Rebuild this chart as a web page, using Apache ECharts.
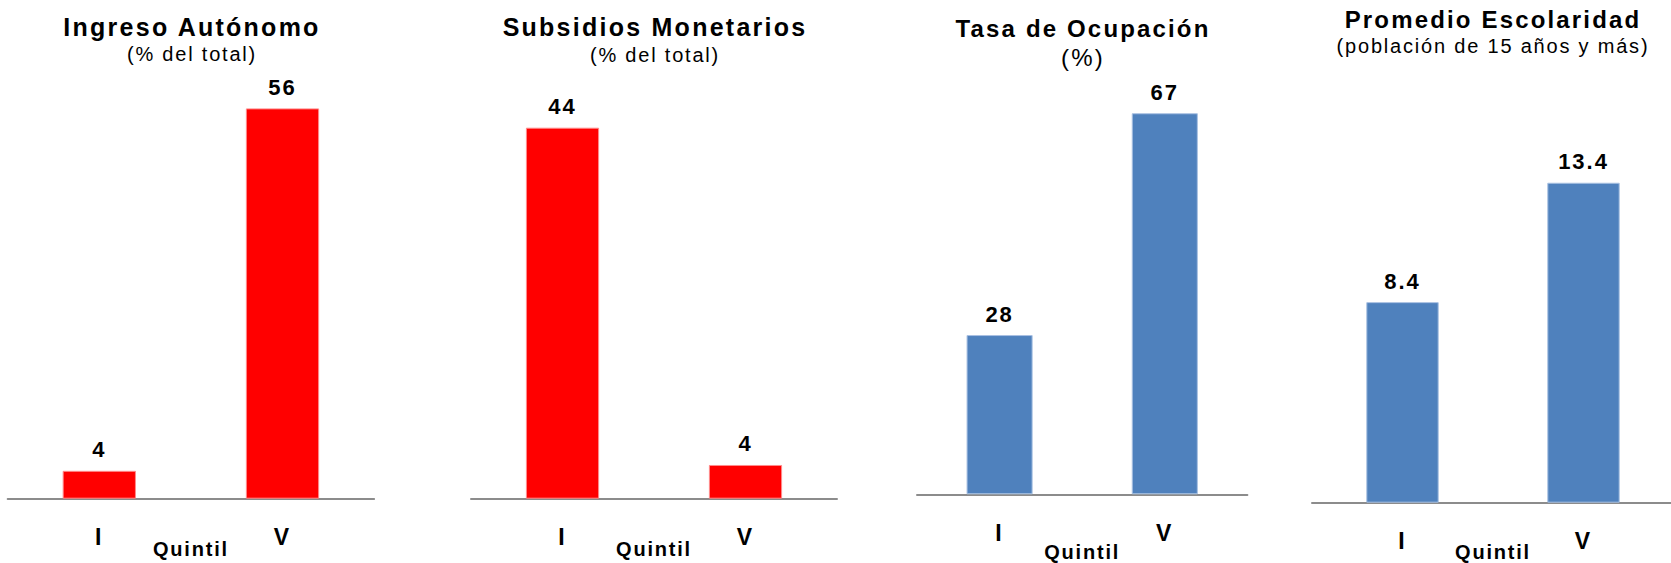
<!DOCTYPE html>
<html>
<head>
<meta charset="utf-8">
<script src="https://cdn.jsdelivr.net/npm/echarts@6/dist/echarts.min.js"></script>
<style>
  html, body { margin: 0; padding: 0; background: #fff; }
  #chart { width: 1671px; height: 563px; }
  #chart text { letter-spacing: 0.09em; }
</style>
</head>
<body>
<div id="chart"></div>
<script>
// ---- data ----
const categories = ['I', 'V'];
const axisName = 'Quintil';
const ingresoAutonomo = [4, 56];
const subsidiosMonetarios = [44, 4];
const tasaOcupacion = [28, 67];
const promedioEscolaridad = [8.4, 13.4];
const panelTitles = ['Ingreso Autónomo', 'Subsidios Monetarios', 'Tasa de Ocupación', 'Promedio Escolaridad'];
const panelSubtitles = ['(% del total)', '(% del total)', '(%)', '(población de 15 años y más)'];
const panelValues = [ingresoAutonomo, subsidiosMonetarios, tasaOcupacion, promedioEscolaridad];
const panelMax = [60, 50, 80, 18];

// ---- layout / style ----
const RED = '#FF0000', BLUE = '#4F81BD';
const FONT = "'Liberation Sans', Arial, sans-serif";
const panelColors = [RED, RED, BLUE, BLUE];
const panelBorder = ['#ff8c8c', '#ff8c8c', '#a9c1e2', '#a9c1e2'];
const grids = [
  { left: 7.7, width: 366.4, top: 80.5, bottom: 64.3 },
  { left: 471, width: 366, top: 77.1, bottom: 64.3 },
  { left: 917, width: 330.4, top: 39.3, bottom: 68.7 },
  { left: 1312, width: 362, top: 72.9, bottom: 60.3 }
];
const titleCenters = [192, 655, 1083, 1493];
const titleTops = [14, 14.5, 16, 7];
const titleSizes = [25, 25, 24, 24];
const subSizes = [20, 20, 24, 20];
const itemGaps = [5, 5, 5, 4.5];
const nameGaps = [40, 40, 47.5, 39.5];

const chart = echarts.init(document.getElementById('chart'), null, { renderer: 'svg' });

const option = {
  backgroundColor: '#fff',
  animation: false,
  title: panelTitles.map((t, i) => ({
    text: t,
    subtext: panelSubtitles[i],
    left: titleCenters[i],
    top: titleTops[i],
    textAlign: 'center',
    padding: 0,
    itemGap: itemGaps[i],
    textStyle: { fontFamily: FONT, fontWeight: 'bold', fontSize: titleSizes[i], color: '#000' },
    subtextStyle: { fontFamily: FONT, fontWeight: 'normal', fontSize: subSizes[i], color: '#000' }
  })),
  grid: grids.map(g => Object.assign({ containLabel: false, outerBoundsMode: 'none' }, g)),
  xAxis: grids.map((g, i) => ({
    type: 'category',
    gridIndex: i,
    data: categories,
    name: axisName,
    nameLocation: 'middle',
    nameGap: nameGaps[i],
    nameMoveOverlap: false,
    nameTextStyle: { fontFamily: FONT, fontWeight: 'bold', fontSize: 20, color: '#000' },
    axisLine: { show: true, lineStyle: { color: '#8c8c8c', width: 2 } },
    axisTick: { show: false },
    axisLabel: { margin: 27, fontFamily: FONT, fontWeight: 'bold', fontSize: 23, color: '#000' },
    splitLine: { show: false }
  })),
  yAxis: grids.map((g, i) => ({
    type: 'value',
    gridIndex: i,
    min: 0,
    max: panelMax[i],
    show: false,
    splitLine: { show: false }
  })),
  series: panelValues.map((vals, i) => ({
    type: 'bar',
    xAxisIndex: i,
    yAxisIndex: i,
    data: vals,
    barWidth: '40%',
    itemStyle: { color: panelColors[i], borderColor: panelBorder[i], borderWidth: 1 },
    label: {
      show: true,
      position: 'top',
      distance: 10,
      fontFamily: FONT,
      fontWeight: 'bold',
      fontSize: 22,
      color: '#000'
    }
  }))
};
chart.setOption(option);
</script>
</body>
</html>
